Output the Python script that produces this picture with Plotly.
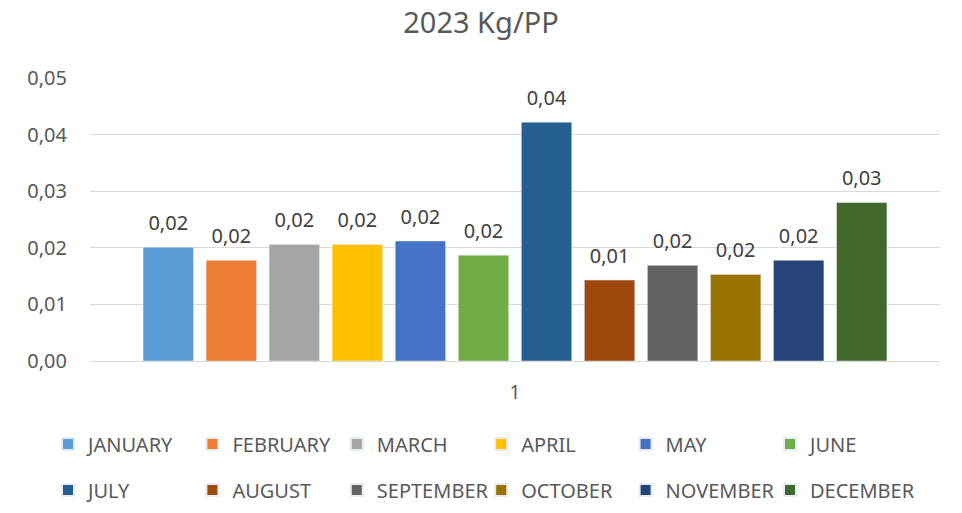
import plotly.graph_objects as go

months = ["JANUARY", "FEBRUARY", "MARCH", "APRIL", "MAY", "JUNE",
          "JULY", "AUGUST", "SEPTEMBER", "OCTOBER", "NOVEMBER", "DECEMBER"]
values = [0.0201, 0.0178, 0.0206, 0.0206, 0.0212, 0.0187,
          0.0422, 0.0143, 0.0169, 0.0153, 0.0178, 0.0280]
colors = ["#5B9BD5", "#ED7D31", "#A5A5A5", "#FFC000", "#4472C4", "#70AD47",
          "#255E91", "#9E480E", "#636363", "#997300", "#264478", "#43682B"]
category = ["1"]
y_ticks = [0, 0.01, 0.02, 0.03, 0.04, 0.05]

FONT = "Noto Sans"
W, H = 962, 513
fig = go.Figure()
legends = {}
for i, (m, v, c) in enumerate(zip(months, values, colors)):
    key = "legend" if i == 0 else f"legend{i + 1}"
    fig.add_trace(go.Bar(
        x=category, y=[v], name=m, marker_color=c,
        offsetgroup=str(i), legend=key,
    ))
    col, row = i % 6, i // 6
    legends[key] = dict(
        orientation="h", xref="container", yref="container",
        xanchor="left", yanchor="middle",
        x=(48 + col * 144.4) / W, y=1 - (444 + row * 46) / H,
        font=dict(size=20, color="#595959", family=FONT),
        bgcolor="rgba(0,0,0,0)", itemsizing="constant",
    )

# data labels, grouped to sit above each bar
for i, (m, v) in enumerate(zip(months, values)):
    fig.add_trace(go.Scatter(
        x=category, y=[v], mode="text+markers", offsetgroup=str(i),
        marker=dict(size=18, opacity=0),
        text=[f"{v:.2f}".replace(".", ",")], textposition="top center",
        textfont=dict(size=20, color="#404040", family=FONT),
        showlegend=False, hoverinfo="skip", cliponaxis=False,
    ))

fig.update_layout(
    width=W, height=H,
    paper_bgcolor="white", plot_bgcolor="white",
    separators=", ",
    title=dict(text="2023 Kg/PP", x=0.5, xanchor="center", y=1 - 23 / H, yanchor="middle",
               font=dict(size=29, color="#595959", family=FONT)),
    margin=dict(l=90, r=22, t=78, b=152, autoexpand=False),
    barmode="group", bargap=0.11, bargroupgap=0.2,
    scattermode="group", scattergap=0.11,
    showlegend=True,
    xaxis=dict(showgrid=False, showline=True, linecolor="#D9D9D9", linewidth=1,
               ticks="", tickfont=dict(size=19, color="#595959", family=FONT),
               ticklabelstandoff=14, automargin=False),
    yaxis=dict(range=[0, 0.05], tickvals=y_ticks, tickformat=".2f",
               showgrid=True, gridcolor="#D9D9D9", gridwidth=1, zeroline=False,
               showline=False, ticks="",
               tickfont=dict(size=20, color="#595959", family=FONT),
               ticklabelstandoff=22, automargin=False),
    font=dict(family=FONT),
    **legends,
)

fig.write_html("out.html", config={"displayModeBar": False},
               post_script="document.body.style.margin='0';")
